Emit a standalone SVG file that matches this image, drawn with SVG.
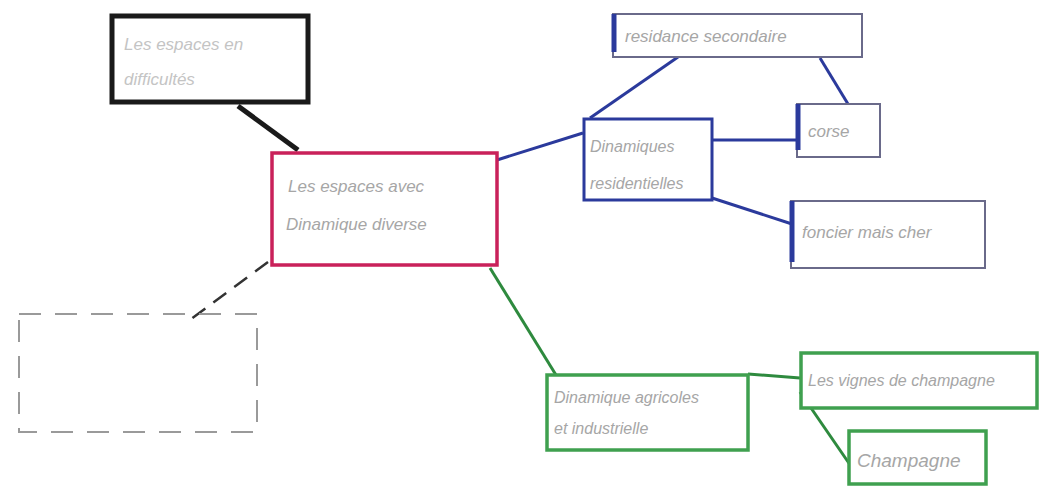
<svg xmlns="http://www.w3.org/2000/svg" width="1040" height="497" viewBox="0 0 1040 497">
<style>
  .t{font-family:"Liberation Sans",Arial,sans-serif;font-style:italic;fill:#a6a6a6;font-size:17px}
  .blk{fill:#fff;stroke:#1a1a1a;stroke-width:5}
  .red{fill:#fff;stroke:#c9215a;stroke-width:3.5}
  .blue{fill:#fff;stroke:#6a6a8a;stroke-width:2}
  .bl{stroke:#2b3a9c;stroke-width:5}
  .dbl{fill:#fff;stroke:#2b3a9c;stroke-width:3}
  .grn{fill:#fff;stroke:#3fa04f;stroke-width:3.5}
  .dash{fill:none;stroke:#9a9a9a;stroke-width:2;stroke-dasharray:22 14}
  .cb{stroke:#2b3a9c;stroke-width:3;fill:none}
  .cg{stroke:#2e8a3e;stroke-width:3;fill:none}
</style>
<rect width="1040" height="497" fill="#fff"/>
<g id="connectors">
  <line x1="238" y1="106" x2="298" y2="150" stroke="#1a1a1a" stroke-width="5"/>
  <line x1="268" y1="262" x2="187" y2="322" stroke="#333" stroke-width="2.5" stroke-dasharray="16 10"/>
  <line class="cb" x1="497" y1="160" x2="583" y2="133"/>
  <line class="cb" x1="590" y1="118" x2="678" y2="57"/>
  <line class="cb" x1="820" y1="58" x2="848" y2="104"/>
  <line class="cb" x1="712" y1="140" x2="797" y2="140"/>
  <line class="cb" x1="712" y1="198" x2="792" y2="224"/>
  <line class="cg" x1="490" y1="268" x2="556" y2="375"/>
  <line class="cg" x1="748" y1="374" x2="800" y2="378"/>
  <line class="cg" x1="800" y1="392" x2="855" y2="472"/>
</g>
<g id="n-black">
  <rect class="blk" x="112" y="16" width="196" height="86"/>
  <text class="t" x="124" y="50" style="fill:#c4c4c4">Les espaces en</text>
  <text class="t" x="124" y="85" style="fill:#c4c4c4">difficultés</text>
</g>
<g id="n-center">
  <rect class="red" x="272" y="153" width="225" height="112"/>
  <text class="t" x="288" y="192">Les espaces avec</text>
  <text class="t" x="286" y="230">Dinamique diverse</text>
</g>
<g id="n-dashed">
  <rect class="dash" x="19" y="314" width="238" height="118"/>
</g>
<g id="n-residance">
  <rect class="blue" x="613" y="14" width="249" height="43"/>
  <line class="bl" x1="614" y1="14" x2="614" y2="52"/>
  <text class="t" x="625" y="42">residance secondaire</text>
</g>
<g id="n-dinamiques">
  <rect class="dbl" x="584" y="119" width="128" height="81"/>
  <text class="t" x="590" y="152" style="font-size:16px">Dinamiques</text>
  <text class="t" x="590" y="189" style="font-size:16px">residentielles</text>
</g>
<g id="n-corse">
  <rect class="blue" x="797" y="104" width="83" height="53"/>
  <line class="bl" x1="798" y1="104" x2="798" y2="150"/>
  <text class="t" x="808" y="137">corse</text>
</g>
<g id="n-foncier">
  <rect class="blue" x="791" y="201" width="194" height="67"/>
  <line class="bl" x1="792" y1="201" x2="792" y2="262"/>
  <text class="t" x="802" y="238">foncier mais cher</text>
</g>
<g id="n-agricoles">
  <rect class="grn" x="547" y="375" width="201" height="75"/>
  <text class="t" x="554" y="403" style="font-size:16px">Dinamique agricoles</text>
  <text class="t" x="554" y="434" style="font-size:16px">et industrielle</text>
</g>
<g id="n-vignes">
  <rect class="grn" x="801" y="353" width="236" height="55"/>
  <text class="t" x="808" y="386" style="font-size:16px">Les vignes de champagne</text>
</g>
<g id="n-champagne">
  <rect class="grn" x="849" y="431" width="137" height="53"/>
  <text class="t" x="857" y="467" style="font-size:19px">Champagne</text>
</g>
</svg>
